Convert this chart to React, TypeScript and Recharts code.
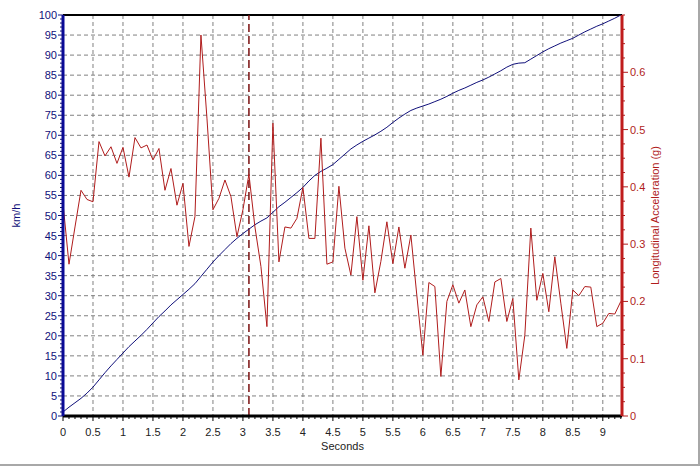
import { CartesianGrid, Label, Line, LineChart, ReferenceLine, XAxis, YAxis } from "recharts";

// sample times (s)
const time = [
  0, 0.1, 0.2, 0.3, 0.4, 0.5, 0.6, 0.7, 0.8, 0.9,
  1, 1.1, 1.2, 1.3, 1.4, 1.5, 1.6, 1.7, 1.8, 1.9,
  2, 2.1, 2.2, 2.3, 2.4, 2.5, 2.6, 2.7, 2.8, 2.9,
  3, 3.1, 3.2, 3.3, 3.4, 3.5, 3.6, 3.7, 3.8, 3.9,
  4, 4.1, 4.2, 4.3, 4.4, 4.5, 4.6, 4.7, 4.8, 4.9,
  5, 5.1, 5.2, 5.3, 5.4, 5.5, 5.6, 5.7, 5.8, 5.9,
  6, 6.1, 6.2, 6.3, 6.4, 6.5, 6.6, 6.7, 6.8, 6.9,
  7, 7.1, 7.2, 7.3, 7.4, 7.5, 7.6, 7.7, 7.8, 7.9,
  8, 8.1, 8.2, 8.3, 8.4, 8.5, 8.6, 8.7, 8.8, 8.9,
  9, 9.1, 9.2, 9.3,
];

// vehicle speed (km/h)
const speedKmh = [
  1.0, 2.2, 3.3, 4.4, 5.7, 7.2, 9.0, 10.8, 12.5, 14.1,
  15.7, 17.3, 18.7, 20.1, 21.6, 23.2, 24.8, 26.2, 27.7, 29.0,
  30.3, 31.6, 33.0, 34.8, 36.6, 38.4, 40.0, 41.5, 43.0, 44.3,
  45.5, 46.6, 47.7, 48.6, 49.4, 50.8, 52.2, 53.3, 54.5, 55.7,
  57.0, 58.6, 60.0, 61.0, 61.8, 62.7, 64.0, 65.3, 66.6, 67.6,
  68.5, 69.3, 70.1, 71.0, 72.0, 73.2, 74.3, 75.3, 76.2, 76.8,
  77.3, 77.8, 78.4, 79.0, 79.7, 80.5, 81.2, 81.8, 82.5, 83.2,
  83.8, 84.5, 85.3, 86.1, 87.0, 87.7, 88.0, 88.1, 89.0, 89.9,
  90.8, 91.6, 92.3, 93.0, 93.6, 94.2, 95.0, 95.8, 96.5, 97.2,
  97.8, 98.5, 99.2, 100,
];

// longitudinal acceleration (g)
const accelG = [
  0.371, 0.265, 0.33, 0.394, 0.378, 0.374, 0.479, 0.454, 0.47, 0.441,
  0.469, 0.417, 0.486, 0.468, 0.473, 0.447, 0.467, 0.394, 0.432, 0.368,
  0.406, 0.296, 0.348, 0.665, 0.52, 0.36, 0.38, 0.412, 0.383, 0.313,
  0.36, 0.422, 0.33, 0.261, 0.156, 0.511, 0.269, 0.33, 0.328, 0.345,
  0.399, 0.31, 0.31, 0.485, 0.265, 0.269, 0.401, 0.293, 0.246, 0.348,
  0.237, 0.332, 0.215, 0.27, 0.339, 0.266, 0.33, 0.258, 0.316, 0.21,
  0.106, 0.233, 0.226, 0.069, 0.2, 0.229, 0.197, 0.22, 0.156, 0.194,
  0.208, 0.165, 0.234, 0.24, 0.165, 0.205, 0.063, 0.141, 0.328, 0.202,
  0.249, 0.182, 0.278, 0.197, 0.118, 0.22, 0.21, 0.226, 0.225, 0.156,
  0.162, 0.179, 0.178, 0.2,
];

const cursorTime = 3.1;

// tick labels
const speedLabels = [0, 5, 10, 15, 20, 25, 30, 35, 40, 45, 50, 55, 60, 65, 70, 75, 80, 85, 90, 95, 100];
const accelLabels = [0, 0.1, 0.2, 0.3, 0.4, 0.5, 0.6];
const timeLabels = [0, 0.5, 1, 1.5, 2, 2.5, 3, 3.5, 4, 4.5, 5, 5.5, 6, 6.5, 7, 7.5, 8, 8.5, 9];

// minor tick positions
const speedTicks = Array.from({ length: 101 }, (_, i) => i);
const accelTicks = Array.from({ length: 29 }, (_, i) => Math.round(i * 25) / 1000);
const timeTicks = Array.from({ length: 94 }, (_, i) => Math.round(i) / 10);

const data = time.map((t, i) => ({ t, speed: speedKmh[i], accel: accelG[i] }));

const FONT = "'Liberation Sans', Arial, sans-serif";
const NAVY = "#10107a";
const RED = "#b01c1c";

const isLabel = (list: number[], v: number) => list.some((l) => Math.abs(l - v) < 1e-6);

const SpeedTick = (props: any) => {
  const { x, y, payload } = props;
  const major = isLabel(speedLabels, payload.value);
  return (
    <g>
      <line x1={x - (major ? 5 : 3)} x2={x} y1={y} y2={y} stroke={NAVY} />
      {major && (
        <text x={x - 6} y={y} textAnchor="end" dominantBaseline="central" fill={NAVY} fontSize={11} fontFamily={FONT}>
          {payload.value}
        </text>
      )}
    </g>
  );
};

const AccelTick = (props: any) => {
  const { x, y, payload } = props;
  const major = isLabel(accelLabels, payload.value);
  return (
    <g>
      <line x1={x} x2={x + (major ? 6 : 3)} y1={y} y2={y} stroke={RED} />
      {major && (
        <text x={x + 8} y={y} textAnchor="start" dominantBaseline="central" fill={RED} fontSize={11} fontFamily={FONT}>
          {payload.value === 0 ? "0" : payload.value.toFixed(1)}
        </text>
      )}
    </g>
  );
};

const TimeTick = (props: any) => {
  const { x, y, payload } = props;
  const major = isLabel(timeLabels, payload.value);
  return (
    <g>
      <line x1={x} x2={x} y1={y} y2={y + (major ? 5 : 3)} stroke="#000" />
      {major && (
        <text x={x} y={y + 16} textAnchor="middle" dominantBaseline="central" fill="#222" fontSize={11} fontFamily={FONT}>
          {payload.value}
        </text>
      )}
    </g>
  );
};

export default function App() {
  return (
    <div style={{ position: "fixed", left: 0, top: 0, width: 700, height: 466, background: "#fff" }}>
      <LineChart width={700} height={466} data={data} margin={{ top: 15, right: 0, bottom: 0, left: 0 }}>
        <CartesianGrid
          yAxisId="speed"
          stroke="#808080"
          strokeDasharray="4 3"
          horizontalValues={speedLabels.slice(1, -1)}
          verticalValues={timeLabels.slice(1)}
        />
        <XAxis
          type="number"
          dataKey="t"
          domain={[0, 9.32]}
          ticks={timeTicks}
          interval={0}
          height={50}
          tickSize={0}
          tickMargin={0}
          tick={<TimeTick />}
          axisLine={{ stroke: "#000", strokeWidth: 3 }}
          allowDataOverflow
        >
          <Label
            content={({ viewBox }: any) => (
              <text x={viewBox.x + viewBox.width / 2} y={viewBox.y + 30} textAnchor="middle" dominantBaseline="central" fill="#222" fontSize={11} fontFamily={FONT}>
                Seconds
              </text>
            )}
          />
        </XAxis>
        <YAxis
          yAxisId="speed"
          orientation="left"
          domain={[0, 100]}
          ticks={speedTicks}
          interval={0}
          width={63}
          tickSize={0}
          tickMargin={0}
          tick={<SpeedTick />}
          axisLine={{ stroke: "#0a0a9a", strokeWidth: 3 }}
        >
          <Label
            content={({ viewBox }: any) => {
              const cx = viewBox.x + 16;
              const cy = viewBox.y + viewBox.height / 2;
              return (
                <text x={cx} y={cy} transform={`rotate(-90 ${cx} ${cy})`} textAnchor="middle" dominantBaseline="central" fill={NAVY} fontSize={11} fontFamily={FONT}>
                  km/h
                </text>
              );
            }}
          />
        </YAxis>
        <YAxis
          yAxisId="accel"
          orientation="right"
          domain={[0, 0.7]}
          ticks={accelTicks}
          interval={0}
          width={78}
          tickSize={0}
          tickMargin={0}
          tick={<AccelTick />}
          axisLine={{ stroke: "#c01c1c", strokeWidth: 3 }}
        >
          <Label
            content={({ viewBox }: any) => {
              const cx = viewBox.x + 33;
              const cy = viewBox.y + viewBox.height / 2;
              return (
                <text x={cx} y={cy} transform={`rotate(-90 ${cx} ${cy})`} textAnchor="middle" dominantBaseline="central" fill={RED} fontSize={11} fontFamily={FONT}>
                  Longitudinal Acceleration (g)
                </text>
              );
            }}
          />
        </YAxis>
        <ReferenceLine yAxisId="speed" y={100} stroke="#000" strokeWidth={2} />
        <ReferenceLine yAxisId="speed" x={cursorTime} stroke="#7a1010" strokeWidth={1.5} strokeDasharray="8 4" />
        <Line yAxisId="speed" type="linear" dataKey="speed" stroke={NAVY} strokeWidth={1} dot={false} isAnimationActive={false} />
        <Line yAxisId="accel" type="linear" dataKey="accel" stroke={RED} strokeWidth={1} dot={false} isAnimationActive={false} />
      </LineChart>
      <div
        style={{
          position: "absolute",
          left: 0,
          top: 0,
          width: 698,
          height: 464,
          borderRight: "2px solid #a8a8a8",
          borderBottom: "2px solid #a8a8a8",
          pointerEvents: "none",
        }}
      />
    </div>
  );
}
